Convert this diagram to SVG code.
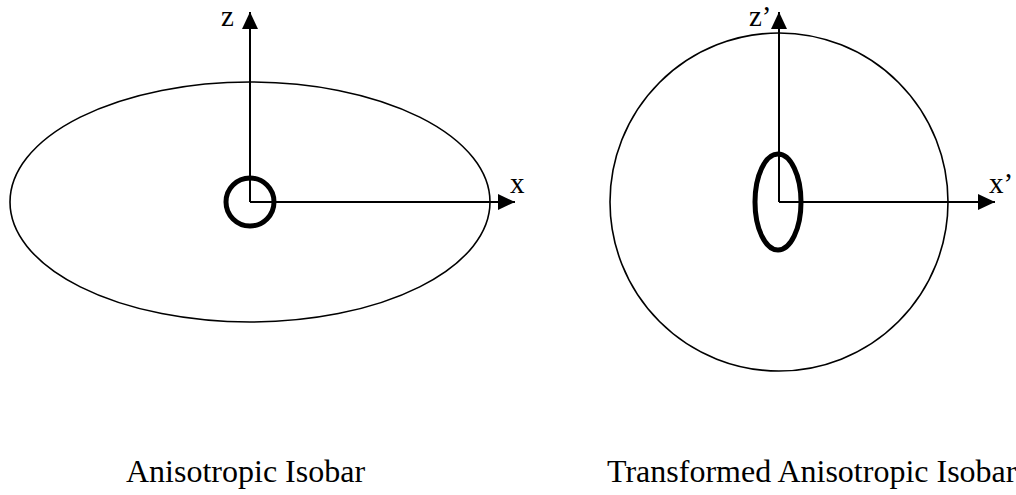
<svg xmlns="http://www.w3.org/2000/svg" width="1016" height="495" viewBox="0 0 1016 495">
<style>
text{font-family:"Liberation Serif","Times New Roman",serif;fill:#000}
.lbl{font-size:29px}
.cap{font-size:32px}
.axis{stroke:#000;stroke-width:2;fill:none}
.iso{stroke:#000;stroke-width:1.6;fill:none}
.bold{stroke:#000;stroke-width:5;fill:none}
</style>
<defs>
<marker id="ah" viewBox="0 0 17 16" refX="17" refY="8" markerWidth="17" markerHeight="16" markerUnits="userSpaceOnUse" orient="auto">
<path d="M0,0 L17,8 L0,16 Z" fill="#000"/>
</marker>
</defs>
<rect width="1016" height="495" fill="#fff"/>
<g id="left-isobar">
<ellipse class="iso" cx="250" cy="202" rx="240" ry="120"/>
</g>
<g id="left-core">
<circle class="bold" cx="250" cy="202" r="24"/>
</g>
<g id="right-isobar">
<circle class="iso" cx="779" cy="202" r="169"/>
</g>
<g id="right-core">
<ellipse class="bold" cx="778" cy="202" rx="23" ry="48"/>
</g>
<g id="connectors">
<line class="axis" x1="250" y1="202" x2="250" y2="12" marker-end="url(#ah)"/>
<line class="axis" x1="250" y1="202" x2="515" y2="202" marker-end="url(#ah)"/>
<line class="axis" x1="779" y1="202" x2="779" y2="12" marker-end="url(#ah)"/>
<line class="axis" x1="779" y1="202" x2="995" y2="202" marker-end="url(#ah)"/>
</g>
<g id="labels">
<text class="lbl" x="221" y="26">z</text>
<text class="lbl" x="510" y="193">x</text>
<text class="lbl" x="749" y="26">z’</text>
<text class="lbl" x="989" y="193">x’</text>
<text class="cap" x="126" y="482">Anisotropic Isobar</text>
<text class="cap" x="607" y="482">Transformed Anisotropic Isobar</text>
</g>
</svg>
